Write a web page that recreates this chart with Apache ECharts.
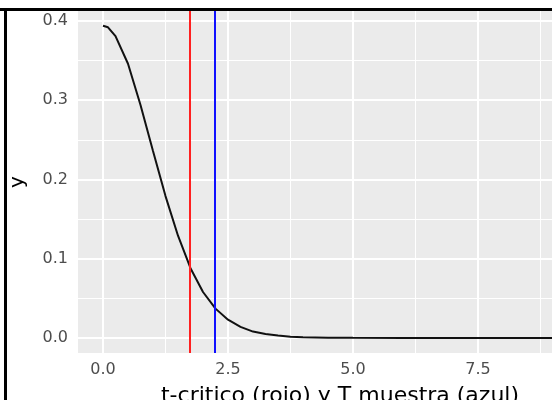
<!DOCTYPE html>
<html>
<head>
<meta charset="utf-8">
<script src="https://cdn.jsdelivr.net/npm/echarts@6/dist/echarts.min.js"></script>
<style>
  html, body { margin: 0; padding: 0; background: #fff; }
  #main { width: 552px; height: 400px; }
</style>
</head>
<body>
<div id="main"></div>
<script>
// densidad
var xs = [0, 0.1, 0.25, 0.5, 0.75, 1.0, 1.25, 1.5, 1.75, 2.0, 2.25, 2.5, 2.75, 3.0, 3.25, 3.5, 3.75, 4.0, 4.5, 5, 6, 7, 8, 9, 10];
var ys = [0.394, 0.392, 0.381, 0.346, 0.294, 0.236, 0.179, 0.129, 0.088, 0.058, 0.037, 0.023, 0.014, 0.008, 0.005, 0.003, 0.0015, 0.001, 0.0004, 0.0001, 0, 0, 0, 0, 0];

var tCritico = 1.73;   // rojo
var tMuestra = 2.23;   // azul

var xTicks = [0, 2.5, 5, 7.5];
var xMinor = [1.25, 3.75, 6.25, 8.75];
var yTicks = [0, 0.1, 0.2, 0.3, 0.4];
var yMinor = [0.05, 0.15, 0.25, 0.35];

var curve = xs.map(function (x, i) { return [x, ys[i]]; });

function vline(v, w) { return { xAxis: v, lineStyle: { color: '#fff', width: w, type: 'solid' } }; }
function hline(v, w) { return { yAxis: v, lineStyle: { color: '#fff', width: w, type: 'solid' } }; }

var gridLines = []
  .concat(xMinor.map(function (v) { return vline(v, 1); }))
  .concat(yMinor.map(function (v) { return hline(v, 1); }))
  .concat(xTicks.map(function (v) { return vline(v, 2); }))
  .concat(yTicks.map(function (v) { return hline(v, 2); }));

var myChart = echarts.init(document.getElementById('main'));

myChart.setOption({
  backgroundColor: '#FFFFFF',
  animation: false,
  textStyle: { fontFamily: 'DejaVu Sans' },
  grid: {
    left: 78, right: 0, top: 11, bottom: 47,
    outerBoundsMode: 'none', containLabel: false,
    show: true, backgroundColor: '#EBEBEB', borderWidth: 0
  },
  xAxis: {
    type: 'value',
    min: -0.5,
    max: 8.98,
    splitLine: { show: false },
    axisLine: { show: false },
    axisTick: { show: true, customValues: xTicks, length: 4, lineStyle: { color: '#333', width: 1.5 } },
    axisLabel: {
      customValues: xTicks, color: '#4D4D4D', fontSize: 16, margin: 9,
      formatter: function (v) { return v.toFixed(1); }
    },
    name: 't-critico (rojo) y T muestra (azul)',
    nameLocation: 'middle',
    nameGap: 32,
    nameTextStyle: { color: '#000', fontSize: 22, padding: [0, 0, 0, 50] }
  },
  yAxis: {
    type: 'value',
    min: -0.019,
    max: 0.4126,
    splitLine: { show: false },
    axisLine: { show: false },
    axisTick: { show: true, customValues: yTicks, length: 4, lineStyle: { color: '#333', width: 1.5 } },
    axisLabel: {
      customValues: yTicks, color: '#4D4D4D', fontSize: 16, margin: 10,
      formatter: function (v) { return v.toFixed(1); }
    },
    name: 'y',
    nameLocation: 'middle',
    nameGap: 50,
    nameTextStyle: { color: '#000', fontSize: 20 }
  },
  series: [
    {
      type: 'line', data: [], silent: true, z: 1,
      markLine: { silent: true, z: 1, symbol: 'none', label: { show: false }, animation: false, data: gridLines }
    },
    {
      type: 'line', data: curve, showSymbol: false, smooth: false, z: 5,
      lineStyle: { color: '#111', width: 2 }
    },
    {
      type: 'line', data: [], silent: true, z: 6,
      markLine: {
        silent: true, z: 6, symbol: 'none', label: { show: false }, animation: false,
        data: [
          { xAxis: tCritico, lineStyle: { color: '#FF2020', width: 2, type: 'solid' } },
          { xAxis: tMuestra, lineStyle: { color: '#1010FF', width: 2, type: 'solid' } }
        ]
      }
    }
  ],
  graphic: [
    { type: 'rect', shape: { x: 0, y: 0, width: 552, height: 8 }, style: { fill: '#fff' }, z: 100 },
    { type: 'line', shape: { x1: 0, y1: 9.5, x2: 552, y2: 9.5 }, style: { stroke: '#000', lineWidth: 3 }, z: 101 },
    { type: 'line', shape: { x1: 5.5, y1: 8, x2: 5.5, y2: 400 }, style: { stroke: '#000', lineWidth: 3 }, z: 101 }
  ]
});
</script>
</body>
</html>
